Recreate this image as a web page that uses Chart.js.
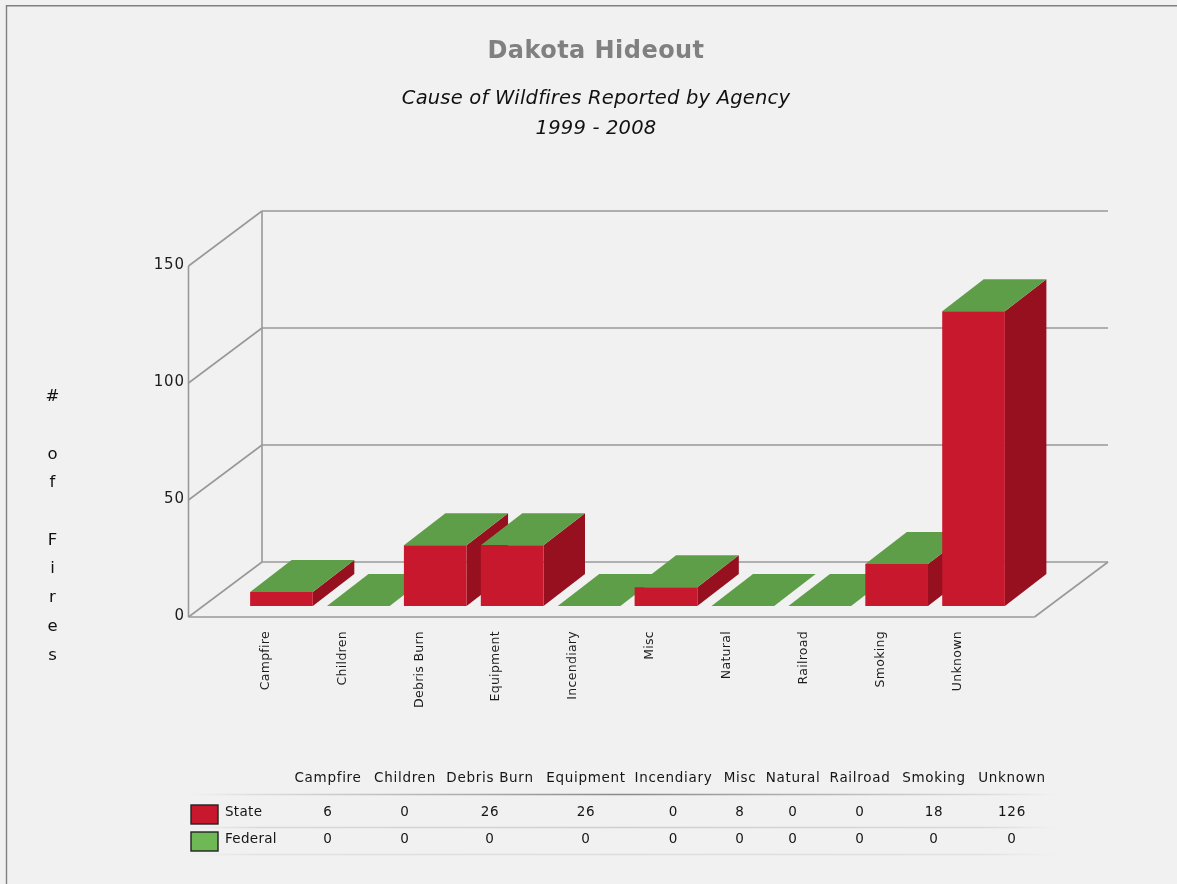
<!DOCTYPE html>
<html>
<head>
<meta charset="utf-8">
<style>html,body{margin:0;padding:0;background:#f1f1f1}canvas{display:block}</style>
<script src="https://cdn.jsdelivr.net/npm/chart.js"></script>
</head>
<body>
<canvas id="c" width="1177" height="884"></canvas>
<script>
const categories = ['Campfire','Children','Debris Burn','Equipment','Incendiary','Misc','Natural','Railroad','Smoking','Unknown'];
const stateValues = [6,0,26,26,0,8,0,0,18,126];
const federalValues = [0,0,0,0,0,0,0,0,0,0];
const yTicks = [0,50,100,150];
const titleText = 'Dakota Hideout';
const subtitleLines = ['Cause of Wildfires Reported by Agency','1999 - 2008'];
const yAxisTitle = '# of Fires';

const FONT = '"DejaVu Sans"';
const COL = {bg:'#f1f1f1',grid:'#999999',front:'#c8182d',side:'#96101f',top:'#5f9e49',stateKey:'#c8182d',fedKey:'#6fb856'};
const FRAME = {left:-54.5,right:22.5,drop:11,dx:73.5,dy:55};
const BAR_DEPTH = {dx:41.5,dy:32};
const TABLE_X = [328,405,490,586,673.5,740,793,860,934,1012];

function poly(ctx,pts,fill){
  ctx.beginPath();
  pts.forEach((p,i)=>i?ctx.lineTo(p[0],p[1]):ctx.moveTo(p[0],p[1]));
  ctx.closePath();
  ctx.fillStyle=fill;ctx.fill();
}
function withSpacing(ctx,obj,method,sp){
  const orig=obj[method];
  obj[method]=function(...args){
    ctx.letterSpacing=sp;
    const r=orig.apply(this,args);
    ctx.letterSpacing='0px';
    return r;
  };
}
const scene3d = {
  id:'scene3d',
  afterLayout(chart){
    chart.boxes.forEach(b=>{
      if(b.options && 'text' in b.options && !b.axis){
        b.left=0; b.right=1192;
        withSpacing(chart.ctx,b,'draw',b.options.text===titleText?'0.45px':'0.2px');
      }
    });
    withSpacing(chart.ctx,chart.scales.x,'drawLabels','0.3px');
    withSpacing(chart.ctx,chart.scales.y,'drawLabels','0.9px');
  },
  beforeDatasetsDraw(chart){
    const ctx=chart.ctx, y=chart.scales.y, a=chart.chartArea;
    const L=a.left+FRAME.left, R=a.right+FRAME.right;
    const base=y.getPixelForValue(0)+FRAME.drop;
    const rise=v=>y.getPixelForValue(v)-y.getPixelForValue(0);
    ctx.save();
    ctx.strokeStyle=COL.grid;ctx.lineWidth=1.6;
    const seg=(x1,y1,x2,y2)=>{ctx.beginPath();ctx.moveTo(x1,y1);ctx.lineTo(x2,y2);ctx.stroke();};
    const max=yTicks[yTicks.length-1];
    yTicks.forEach(v=>{
      const f=base+rise(v);
      seg(L,f,L+FRAME.dx,f-FRAME.dy);
      seg(L+FRAME.dx,f-FRAME.dy,R+FRAME.dx,f-FRAME.dy);
    });
    seg(L,base,L,base+rise(max));
    seg(L+FRAME.dx,base-FRAME.dy,L+FRAME.dx,base+rise(max)-FRAME.dy);
    seg(L,base,R,base);
    seg(R,base,R+FRAME.dx,base-FRAME.dy);
    const m0=chart.getDatasetMeta(0).data, m1=chart.getDatasetMeta(1).data;
    const d=BAR_DEPTH;
    m0.forEach((el,i)=>{
      const xl=el.x-el.width/2, xr=el.x+el.width/2, bot=el.base, top=m1[i].y;
      if(bot-top>0) poly(ctx,[[xr,top],[xr+d.dx,top-d.dy],[xr+d.dx,bot-d.dy],[xr,bot]],COL.side);
      poly(ctx,[[xl,top],[xl+d.dx,top-d.dy],[xr+d.dx,top-d.dy],[xr,top]],COL.top);
    });
    ctx.restore();
  },
  afterDraw(chart){
    const ctx=chart.ctx;
    ctx.save();
    // outer frame
    ctx.strokeStyle='#808080';ctx.lineWidth=1.4;
    ctx.beginPath();ctx.moveTo(6.5,884);ctx.lineTo(6.5,5.7);ctx.lineTo(1177,5.7);ctx.stroke();
    // y axis title, one letter per line
    ctx.fillStyle='#111';ctx.textAlign='center';ctx.textBaseline='middle';
    ctx.font='16.5px '+FONT;
    [...yAxisTitle].forEach((ch,i)=>{ if(ch!==' ') ctx.fillText(ch,52.5,397+i*28.7); });
    // data table
    ctx.letterSpacing='0.7px';
    ctx.font='13.5px '+FONT;
    ctx.fillStyle='#151515';
    categories.forEach((c,i)=>ctx.fillText(c,TABLE_X[i],778));
    stateValues.forEach((v,i)=>ctx.fillText(String(v),TABLE_X[i],812.5));
    federalValues.forEach((v,i)=>ctx.fillText(String(v),TABLE_X[i],839.5));
    ctx.letterSpacing='0.3px';
    ctx.textAlign='left';
    ctx.fillText(chart.data.datasets[0].label,225,812.5);
    ctx.fillText(chart.data.datasets[1].label,225,839.5);
    ctx.letterSpacing='0px';
    [[794.5,'#8a8a8a','#dcdcdc'],[827.5,'#cfcfcf','#d9d9d9'],[854.5,'#dddddd','#e2e2e2']].forEach(([yy,c,e])=>{
      const g=ctx.createLinearGradient(190,0,1055,0);
      g.addColorStop(0,COL.bg);g.addColorStop(.08,e);g.addColorStop(.5,c);g.addColorStop(.92,e);g.addColorStop(1,COL.bg);
      ctx.strokeStyle=g;ctx.lineWidth=1.3;
      ctx.beginPath();ctx.moveTo(190,yy);ctx.lineTo(1055,yy);ctx.stroke();
    });
    [[805,COL.stateKey],[832,COL.fedKey]].forEach(([yy,c])=>{
      ctx.fillStyle=c;ctx.fillRect(191,yy,27,19);
      ctx.strokeStyle='#222';ctx.lineWidth=1.4;ctx.strokeRect(191,yy,27,19);
    });
    ctx.restore();
  }
};

new Chart(document.getElementById('c'),{
  type:'bar',
  plugins:[scene3d],
  data:{
    labels:categories,
    datasets:[
      {label:'State',data:stateValues,backgroundColor:COL.front,stack:'s'},
      {label:'Federal',data:federalValues,backgroundColor:COL.fedKey,stack:'s'}
    ]
  },
  options:{
    responsive:false,
    animation:false,
    layout:{padding:{left:0,right:165,top:0,bottom:0}},
    datasets:{bar:{barPercentage:.815,categoryPercentage:1}},
    plugins:{
      legend:{display:false},
      tooltip:{enabled:false},
      title:{display:true,text:titleText,color:'#808080',
        font:{family:FONT,size:24,weight:'bold',lineHeight:'30px'},
        padding:{top:37,bottom:0}},
      subtitle:{display:true,text:subtitleLines,color:'#111',
        font:{family:FONT,size:19.5,style:'italic',weight:'normal',lineHeight:'30px'},
        padding:{top:17,bottom:111}}
    },
    scales:{
      x:{
        stacked:true,
        grid:{display:false,drawTicks:false},
        border:{display:false},
        afterFit(s){s.height=278;},
        ticks:{autoSkip:false,minRotation:90,maxRotation:90,padding:25,labelOffset:-16,
          color:'#1c1c1c',font:{family:FONT,size:12.5}}
      },
      y:{
        stacked:true,min:0,max:150,
        grid:{display:false,drawTicks:false},
        border:{display:false},
        afterFit(s){s.width=243;},
        afterBuildTicks(s){s.ticks=yTicks.map(v=>({value:v}));},
        ticks:{padding:58,labelOffset:10,color:'#1c1c1c',font:{family:FONT,size:15}}
      }
    }
  }
});
</script>
</body>
</html>
